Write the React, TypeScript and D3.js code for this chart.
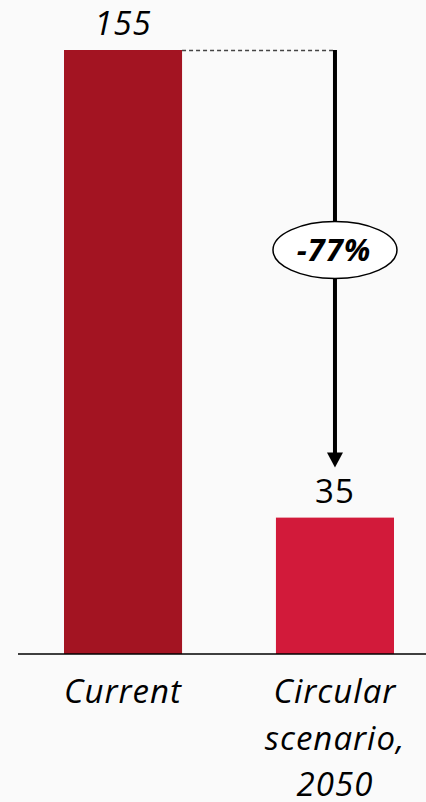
import React from "react";
import * as d3 from "d3";

const categories = ["Current", "Circular scenario, 2050"];
const categoryLines = [["Current"], ["Circular", "scenario,", "2050"]];
const values = [155, 35];
const valueLabels = ["155", "35"];
const changeLabel = "-77%";
const barColors = ["#a31422", "#d21a3a"];

const W = 426;
const H = 802;
const FONT = "'Open Sans', sans-serif";

export default function App() {
  const x = d3.scaleBand<string>().domain(categories).range([64, 394]).paddingInner(0.443).paddingOuter(0);
  const y = d3.scaleLinear().domain([0, 155]).range([654, 50]);
  const bw = x.bandwidth();
  const x0 = x(categories[0])!;
  const x1 = x(categories[1])!;
  const cx1 = x1 + bw / 2;
  const yTop = y(values[0]);
  const yLow = y(values[1]);
  const arrowTip = yLow - 50;
  const ellY = 250;
  return (
    <svg width={W} height={H} style={{ position: "absolute", left: 0, top: 0, background: "#fafafa" }}>
      <rect x={0} y={0} width={W} height={H} fill="#fafafa" />
      {categories.map((c, i) => (
        <rect key={c} x={x(c)} y={y(values[i])} width={bw} height={y(0) - y(values[i])} fill={barColors[i]} />
      ))}
      <line x1={18} x2={W} y1={y(0)} y2={y(0)} stroke="#000" strokeWidth={1.5} />
      {/* dashed guide */}
      <line x1={x0 + bw} x2={cx1} y1={yTop + 0.5} y2={yTop + 0.5} stroke="#444" strokeWidth={1.3} strokeDasharray="4,3" />
      {/* arrow */}
      <line x1={cx1} x2={cx1} y1={yTop} y2={arrowTip - 12} stroke="#000" strokeWidth={4} />
      <path d={`M${cx1 - 8},${arrowTip - 15} L${cx1 + 8},${arrowTip - 15} L${cx1},${arrowTip} Z`} fill="#000" />
      <ellipse cx={cx1} cy={ellY} rx={62} ry={28.5} fill="#fff" stroke="#000" strokeWidth={1.5} />
      <text x={cx1 - 1} y={ellY + 11} textAnchor="middle" fontFamily={FONT} fontSize={31} fontWeight="bold" fontStyle="italic" letterSpacing={1} fill="#000">
        {changeLabel}
      </text>
      {/* value labels */}
      <text x={x0 + bw / 2} y={yTop - 15} textAnchor="middle" fontFamily={FONT} fontSize={33} fontStyle="italic" letterSpacing={1} fill="#000">
        {valueLabels[0]}
      </text>
      <text x={cx1} y={yLow - 15} textAnchor="middle" fontFamily={FONT} fontSize={33} letterSpacing={1} fill="#000">
        {valueLabels[1]}
      </text>
      {/* category labels */}
      {categories.map((c, i) => (
        <text key={c} textAnchor="middle" fontFamily={FONT} fontSize={33} fontStyle="italic" letterSpacing={1} fill="#000">
          {categoryLines[i].map((ln, j) => (
            <tspan key={j} x={x(c)! + bw / 2} y={703 + j * 46.5}>
              {ln}
            </tspan>
          ))}
        </text>
      ))}
    </svg>
  );
}
